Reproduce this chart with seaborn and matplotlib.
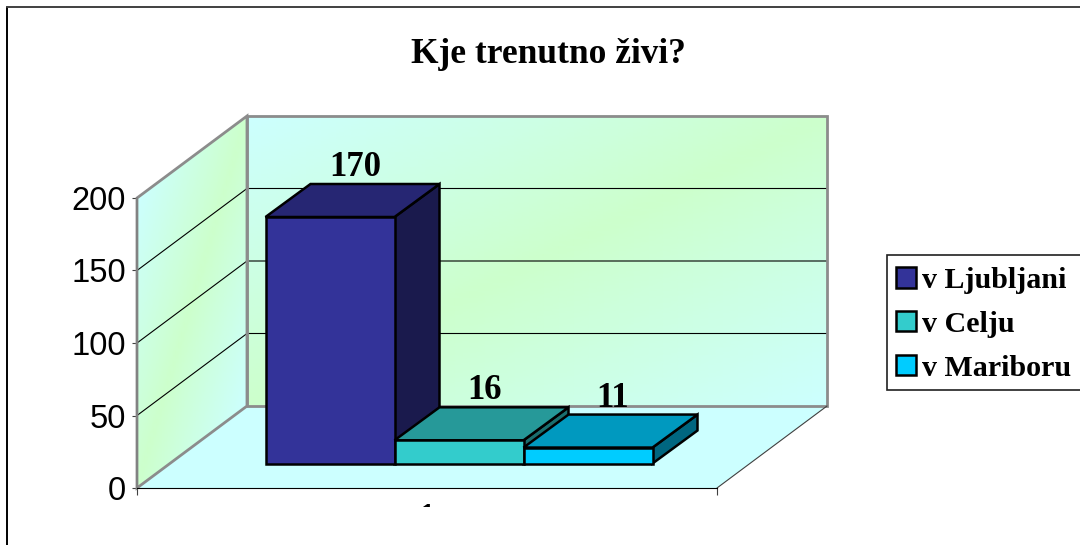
import numpy as np
import pandas as pd
import seaborn as sns
import matplotlib.pyplot as plt
from matplotlib.colors import LinearSegmentedColormap
from matplotlib.lines import Line2D
from matplotlib.patches import Polygon, Rectangle

# %% data
title = 'Kje trenutno živi?'
places = ['v Ljubljani', 'v Celju', 'v Mariboru']
counts = [170, 16, 11]
group = ['1', '1', '1']
y_ticks = [0, 50, 100, 150, 200]
front_colors = ['#333399', '#33CCCC', '#00CCFF']
top_colors = ['#262673', '#269999', '#0099BF']
side_colors = ['#1A1A4D', '#1A6E6E', '#006680']

# %% layout, in pixels of the 1080x545 picture
W, H = 1080, 545
left, right, base, top = 137, 717, 488, 198
px_x = 1 / (right - left)  # one pixel in x units
px_y = 200 / (base - top)  # one pixel in value units
wall_dx, wall_dy = 110 * px_x, 82 * px_y
shift_x, shift_y = 32, 24.5
bar_dx, bar_dy = 45 * px_x, 33 * px_y
label_dx = 25 * px_x
label_dy = 41 * px_y

sns.set_theme(style='ticks')
plt.rcParams['font.family'] = ['Liberation Sans', 'DejaVu Sans']
serif = ['Liberation Serif', 'DejaVu Serif']
wall_cmap = LinearSegmentedColormap.from_list('wall', ['#CCFFFF', '#CCFFCC', '#CCFFFF'])


def add_axes(fig, x0, y0):
    ax = fig.add_axes([x0 / W, (H - y0) / H, (right - left) / W, (base - top) / H])
    return ax


def shade_wall(ax, origin, u, v):
    # diagonal two colour shading over a parallelogram
    s, t = np.meshgrid(np.linspace(0, 1, 40), np.linspace(0, 1, 40))
    xx = origin[0] + s * u[0] + t * v[0]
    yy = origin[1] + s * u[1] + t * v[1]
    mesh = ax.pcolormesh(xx, yy, (s + t) / 2, cmap=wall_cmap, vmin=0, vmax=1,
                         shading='gouraud', zorder=1)
    mesh.set_clip_on(False)


fig = plt.figure(figsize=(W / 100, H / 100), dpi=100)
ax = add_axes(fig, left, base)
ax.patch.set_visible(False)

# floor and walls
x0, x1 = -0.5, 0.5
floor = [(x0, 0), (x1, 0), (x1 + wall_dx, wall_dy), (x0 + wall_dx, wall_dy)]
ax.add_patch(Polygon(floor, facecolor='#CCFFFF', edgecolor='none', zorder=0, clip_on=False))
shade_wall(ax, (x0 + wall_dx, 200 + wall_dy), (1, 0), (0, -200))
shade_wall(ax, (x0, 200), (wall_dx, wall_dy), (0, -200))

for v in y_ticks[1:-1]:
    ax.plot([x0, x0 + wall_dx, x1 + wall_dx], [v, v + wall_dy, v + wall_dy],
            color='black', lw=0.8, zorder=2, clip_on=False)

back = [(x0 + wall_dx, wall_dy), (x1 + wall_dx, wall_dy),
        (x1 + wall_dx, 200 + wall_dy), (x0 + wall_dx, 200 + wall_dy)]
side = [(x0, 0), (x0 + wall_dx, wall_dy), (x0 + wall_dx, 200 + wall_dy), (x0, 200)]
for corners in (back, side):
    ax.add_patch(Polygon(corners, fill=False, edgecolor='#8C8C8C', lw=2.0, zorder=2, clip_on=False))
ax.plot([x1, x1 + wall_dx], [0, wall_dy], color='#404040', lw=0.8, zorder=2, clip_on=False)

ax.set_xlim(x0, x1)
ax.set_ylim(0, 200)
ax.set_xticks([x0, x1], ['', ''])
ax.set_xticks([0], ['1'], minor=True)
ax.set_yticks(y_ticks)
ax.tick_params(axis='x', which='major', length=5, width=0.8, color='#404040')
ax.tick_params(axis='x', which='minor', length=0, pad=10.5, labelsize=23, labelcolor='black')
ax.tick_params(axis='y', length=3.5, width=0.8, pad=4.5, labelsize=23.5, color='#404040', labelcolor='black')
sns.despine(ax=ax)
ax.spines['left'].set(color='#808080', linewidth=1.2)
ax.spines['bottom'].set(color='black', linewidth=0.8)

# bars live in a copy of the axes, pushed back into the floor
ax_bar = add_axes(fig, left + shift_x, base - shift_y)
ax_bar.patch.set_visible(False)
df = pd.DataFrame({'group': group, 'place': places, 'count': counts})
sns.barplot(df, x='group', y='count', hue='place', hue_order=places, palette=front_colors,
            saturation=1, width=387 / 580, dodge=True, edgecolor='black', linewidth=1.8,
            ax=ax_bar, legend=True, clip_on=False)
ax_bar.set_xlim(x0, x1)
ax_bar.set_ylim(0, 200)
ax_bar.axis('off')

handles, labels = ax_bar.get_legend_handles_labels()
ax_bar.get_legend().remove()

for i, container in enumerate(ax_bar.containers):
    bar = container[0]
    bx, bw, bh = bar.get_x(), bar.get_width(), bar.get_height()
    z = 3 + i
    bar.set_zorder(z + 0.5)
    top_face = [(bx, bh), (bx + bw, bh), (bx + bw + bar_dx, bh + bar_dy), (bx + bar_dx, bh + bar_dy)]
    side_face = [(bx + bw, 0), (bx + bw + bar_dx, bar_dy), (bx + bw + bar_dx, bh + bar_dy), (bx + bw, bh)]
    ax_bar.add_patch(Polygon(side_face, facecolor=side_colors[i], edgecolor='black',
                             lw=1.8, joinstyle='miter', zorder=z, clip_on=False))
    ax_bar.add_patch(Polygon(top_face, facecolor=top_colors[i], edgecolor='black',
                             lw=1.8, joinstyle='miter', zorder=z, clip_on=False))
    ax_bar.text(bx + bw / 2 + label_dx, bh + label_dy, f'{counts[i]}', ha='center', va='baseline',
                family=serif, weight='bold', fontsize=25, color='black', zorder=10)

fig.text(548 / W, 1 - 63 / H, title, ha='center', va='baseline',
         family=serif, weight='bold', fontsize=25.5, color='black')

# legend frame runs off the right edge of the picture
fig.add_artist(Rectangle((887 / W, 1 - 390 / H), 200 / W, 135 / H, transform=fig.transFigure,
                         facecolor='white', edgecolor='#202020', lw=1.2, zorder=5))
leg = fig.legend(handles, labels, loc='upper left', bbox_to_anchor=(896 / W, 1 - 267 / H),
                 frameon=False, handlelength=0.66, handleheight=0.66, handletextpad=0.2,
                 labelspacing=0.56, borderpad=0, borderaxespad=0, labelcolor='black',
                 prop={'family': serif, 'weight': 'bold', 'size': 21.6})
leg.set_zorder(6)

# picture is cut off below the axis label, outer frame on top and left
fig.add_artist(Rectangle((9 / W, 0), (W - 9) / W, 38 / H, transform=fig.transFigure,
                         facecolor='white', edgecolor='none', zorder=4))
fig.add_artist(Line2D([7 / W, 7 / W], [0, 1 - 7 / H], color='black', lw=1.4, zorder=7))
fig.add_artist(Line2D([7 / W, 1], [1 - 7 / H, 1 - 7 / H], color='#404040', lw=1.4, zorder=7))

fig.savefig('out.png', dpi=100)
